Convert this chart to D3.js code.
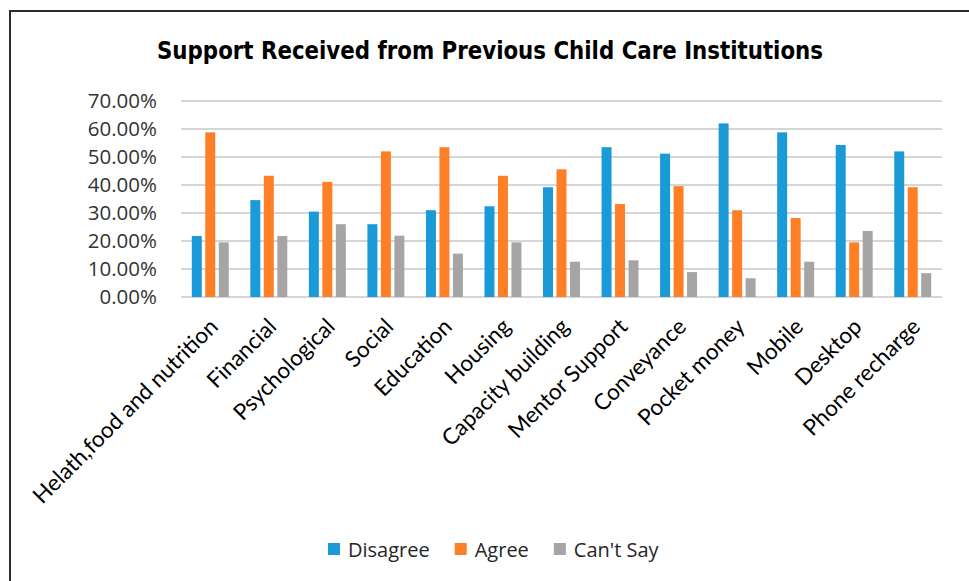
<!DOCTYPE html>
<html>
<head>
<meta charset="utf-8">
<script src="https://cdn.jsdelivr.net/npm/d3@7/dist/d3.min.js"></script>
<style>
  html, body { margin: 0; padding: 0; background: #ffffff; }
  svg { display: block; }
</style>
</head>
<body>
<script>
// Support categories and shares (percent) per response
const categories = [
  "Helath,food and nutrition", "Financial", "Psychological", "Social", "Education",
  "Housing", "Capacity building", "Mentor Support", "Conveyance", "Pocket money",
  "Mobile", "Desktop", "Phone recharge"
];
const seriesNames = ["Disagree", "Agree", "Can't Say"];
const disagree = [21.8, 34.6, 30.5, 26.0, 31.0, 32.4, 39.2, 53.5, 51.2, 62.0, 58.8, 54.3, 52.0];
const agree    = [58.8, 43.3, 41.1, 52.0, 53.5, 43.3, 45.6, 33.2, 39.6, 31.0, 28.2, 19.5, 39.2];
const cantSay  = [19.5, 21.8, 26.0, 21.9, 15.5, 19.5, 12.6, 13.1, 8.9, 6.7, 12.6, 23.6, 8.5];
const yTicks = [0, 0.1, 0.2, 0.3, 0.4, 0.5, 0.6, 0.7];
const title = "Support Received from Previous Child Care Institutions";

const colors = ["#1b9ad8", "#ff7f27", "#a5a5a5"];
const seriesValues = [disagree, agree, cantSay];

const W = 969, H = 581;
const svg = d3.select("body").append("svg").attr("width", W).attr("height", H);

// chart frame
svg.append("rect")
  .attr("x", 10).attr("y", 11).attr("width", W + 20).attr("height", H + 20)
  .attr("fill", "#ffffff").attr("stroke", "#2b2b2b").attr("stroke-width", 2);

// title
svg.append("text")
  .attr("x", 490).attr("y", 59)
  .attr("text-anchor", "middle")
  .attr("font-family", "'DejaVu Sans Condensed', 'DejaVu Sans', sans-serif")
  .attr("font-weight", "bold")
  .attr("font-size", 25)
  .attr("textLength", 666)
  .attr("lengthAdjust", "spacingAndGlyphs")
  .attr("fill", "#000000")
  .text(title);

const plot = { left: 181, right: 942, top: 101, bottom: 297 };

const x = d3.scaleBand().domain(categories).range([plot.left, plot.right]).padding(0);
const xs = d3.scaleBand().domain(seriesNames).range([0, x.bandwidth()])
  .paddingInner(0.26).paddingOuter(0.8);
const y = d3.scaleLinear().domain([0, 0.7]).range([plot.bottom, plot.top]);

// gridlines
svg.append("g").selectAll("line").data(yTicks).join("line")
  .attr("x1", plot.left).attr("x2", plot.right)
  .attr("y1", d => y(d)).attr("y2", d => y(d))
  .attr("stroke", "#d6d6d6").attr("stroke-width", 2);

// y axis labels
const yAxis = d3.axisLeft(y).tickValues(yTicks).tickFormat(d3.format(".2%")).tickSize(0).tickPadding(0);
const yg = svg.append("g").attr("transform", `translate(${157},0)`).call(yAxis);
yg.select(".domain").remove();
yg.selectAll("text")
  .attr("font-family", "'Open Sans', sans-serif")
  .attr("font-size", 20.5)
  .attr("fill", "#333333");

// bars
const rows = categories.map((c, i) => ({ c, vals: seriesNames.map((s, k) => ({ s, k, v: seriesValues[k][i] / 100 })) }));
const groups = svg.append("g").selectAll("g").data(rows).join("g")
  .attr("transform", d => `translate(${x(d.c)},0)`);
groups.selectAll("rect").data(d => d.vals).join("rect")
  .attr("x", d => xs(d.s))
  .attr("width", xs.bandwidth())
  .attr("y", d => y(d.v))
  .attr("height", d => y(0) - y(d.v))
  .attr("fill", d => colors[d.k]);

// category labels, rotated
svg.append("g").selectAll("text").data(categories).join("text")
  .attr("transform", d => `translate(${x(d) + x.bandwidth() / 2 + 9},${plot.bottom + 31}) rotate(-45)`)
  .attr("text-anchor", "end")
  .attr("font-family", "Lato, sans-serif")
  .attr("font-size", 22.5)
  .attr("fill", "#000000")
  .text(d => d);

// legend
const legend = svg.append("g").attr("transform", "translate(328,549)");
let lx = 0;
seriesNames.forEach((s, k) => {
  legend.append("rect").attr("x", lx).attr("y", -6).attr("width", 12).attr("height", 12).attr("fill", colors[k]);
  const t = legend.append("text")
    .attr("x", lx + 20).attr("y", 0)
    .attr("dominant-baseline", "central")
    .attr("font-family", "'Open Sans', sans-serif")
    .attr("font-size", 20)
    .attr("fill", "#262626")
    .text(s);
  lx += 20 + t.node().getComputedTextLength() + 25;
});
</script>
</body>
</html>
